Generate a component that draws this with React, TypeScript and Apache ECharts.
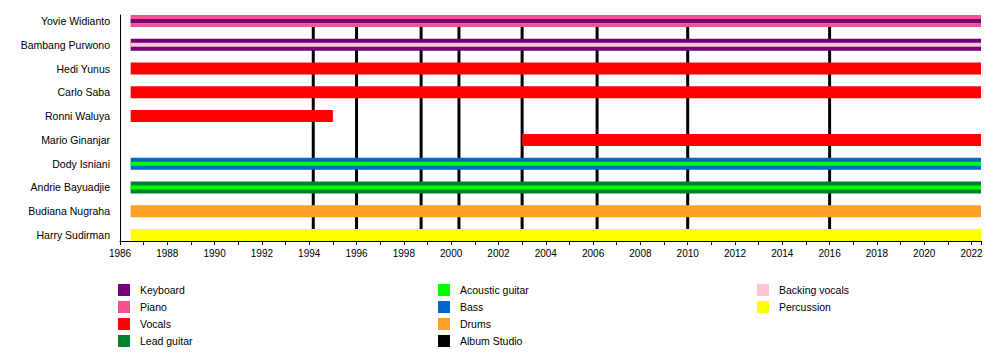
import React, { useEffect, useRef } from 'react';
import * as echarts from 'echarts';

const members = ['Yovie Widianto', 'Bambang Purwono', 'Hedi Yunus', 'Carlo Saba', 'Ronni Waluya', 'Mario Ginanjar', 'Dody Isniani', 'Andrie Bayuadjie', 'Budiana Nugraha', 'Harry Sudirman'];
const startYears = [1986.45, 1986.45, 1986.45, 1986.45, 1986.45, 2003, 1986.45, 1986.45, 1986.45, 1986.45];
const endYears = [2022.4, 2022.4, 2022.4, 2022.4, 1995, 2022.4, 2022.4, 2022.4, 2022.4, 2022.4];
const mainRoles = ['Piano', 'Keyboard', 'Vocals', 'Vocals', 'Vocals', 'Vocals', 'Bass', 'Lead guitar', 'Drums', 'Percussion'];
const secondRoles = ['Keyboard', 'Backing vocals', '', '', '', '', 'Acoustic guitar', 'Acoustic guitar', '', ''];
const albumYears = [1994.17, 1996, 1998.73, 2000.33, 2003, 2006.17, 2010, 2016];
const roles = ['Keyboard', 'Piano', 'Vocals', 'Lead guitar', 'Acoustic guitar', 'Bass', 'Drums', 'Backing vocals', 'Percussion'];
const roleColors = ['#760076', '#F5528F', '#FF0000', '#007F30', '#00FF00', '#0066CC', '#FFA02A', '#FFC4D4', '#FFFF00'];
const legendCol1 = ['Keyboard', 'Piano', 'Vocals', 'Lead guitar'];
const legendCol2 = ['Acoustic guitar', 'Bass', 'Drums', 'Album Studio'];
const legendCol3 = ['Backing vocals', 'Percussion'];
const yearLabels = [1986, 1988, 1990, 1992, 1994, 1996, 1998, 2000, 2002, 2004, 2006, 2008, 2010, 2012, 2014, 2016, 2018, 2020, 2022];

const FONT = "'Liberation Sans', Arial, sans-serif";

export default function App() {
  const ref = useRef<HTMLDivElement>(null);
  useEffect(() => {
    if (!ref.current) return;
    const chart = echarts.init(ref.current, null, { renderer: 'svg' });

    const roleSeries = roles.map((role, ri) => {
      const data: number[][] = [];
      members.forEach((_, i) => {
        if (mainRoles[i] === role) data.push([i, startYears[i], endYears[i], 0]);
        if (secondRoles[i] === role) data.push([i, startYears[i], endYears[i], 1]);
      });
      const color = roleColors[ri];
      return {
        type: 'custom',
        name: role,
        z: 2,
        itemStyle: { color },
        encode: { x: [1, 2], y: 0 },
        data,
        renderItem: (params: any, api: any) => {
          const row = api.value(0);
          const s = api.value(1);
          const e = api.value(2);
          const stripe = api.value(3);
          const p0 = api.coord([s, row]);
          const p1 = api.coord([e, row]);
          const h = stripe ? 4 : 12;
          return {
            type: 'rect',
            z2: stripe ? 10 : 0,
            shape: { x: p0[0], y: p0[1] - h / 2, width: p1[0] - p0[0], height: h },
            style: { fill: color },
          };
        },
      };
    });

    const albumSeries = {
      type: 'custom',
      name: 'Album Studio',
      z: 1,
      itemStyle: { color: '#000000' },
      encode: { x: 0 },
      data: albumYears.map((y) => [y]),
      renderItem: (params: any, api: any) => {
        const yr = api.value(0);
        const a = api.coord([yr, 0]);
        const b = api.coord([yr, members.length - 1]);
        return {
          type: 'line',
          shape: { x1: a[0], y1: a[1], x2: b[0], y2: b[1] },
          style: { stroke: '#000000', lineWidth: 3 },
        };
      },
    };

    const legendBase = {
      orient: 'vertical',
      icon: 'rect',
      itemWidth: 12,
      itemHeight: 12,
      itemGap: 5,
      padding: 0,
      selectedMode: false,
      textStyle: { fontFamily: FONT, fontSize: 10.5, color: '#000', padding: [0, 0, 0, 5] },
      top: 284,
    };

    chart.setOption({
      animation: false,
      textStyle: { fontFamily: FONT },
      grid: { left: 120, right: 19, top: 15, bottom: 119, containLabel: false },
      xAxis: {
        type: 'value',
        min: 1986,
        max: 2022.4,
        interval: 1,
        axisLine: { show: true, onZero: false, lineStyle: { color: '#000', width: 1 } },
        axisTick: { show: true, length: 4, lineStyle: { color: '#000' } },
        splitLine: { show: false },
        axisLabel: {
          fontFamily: FONT,
          fontSize: 10,
          color: '#000',
          margin: 7,
          formatter: (v: number) => (yearLabels.indexOf(v) >= 0 ? String(v) : ''),
        },
      },
      yAxis: {
        type: 'value',
        inverse: true,
        min: -0.253,
        max: members.length - 1 + 0.253,
        axisLine: { show: true, onZero: false, lineStyle: { color: '#000', width: 1 } },
        axisTick: { show: false },
        splitLine: { show: false },
        axisLabel: {
          show: true,
          customValues: members.map((_, i) => i),
          fontFamily: FONT,
          fontSize: 10.5,
          color: '#000',
          margin: 10,
          formatter: (v: number) => members[Math.round(v)] ?? '',
        },
      },
      legend: [
        { ...legendBase, left: 118, data: legendCol1 },
        { ...legendBase, left: 438, data: legendCol2 },
        { ...legendBase, left: 757, data: legendCol3 },
      ],
      series: [albumSeries, ...roleSeries],
    });
    return () => chart.dispose();
  }, []);
  return <div ref={ref} style={{ position: 'absolute', left: 0, top: 0, width: 1000, height: 360 }} />;
}
